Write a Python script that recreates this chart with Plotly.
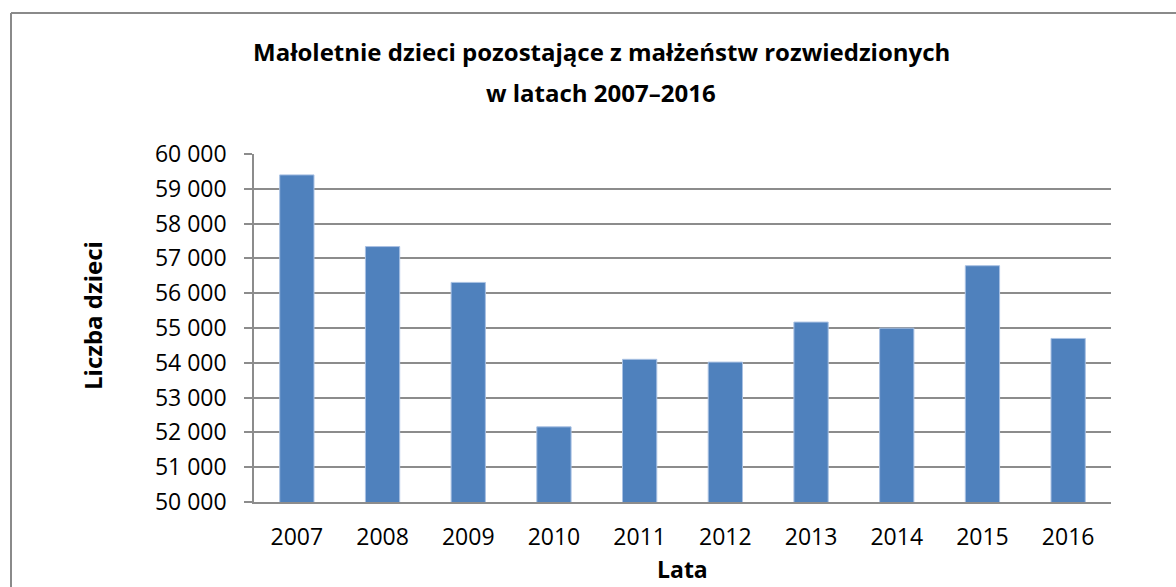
import plotly.graph_objects as go

years = ["2007", "2008", "2009", "2010", "2011", "2012", "2013", "2014", "2015", "2016"]
children = [59400, 57340, 56310, 52160, 54100, 54020, 55170, 54995, 56790, 54700]
y_ticks = list(range(50000, 60001, 1000))

title_line1 = "Małoletnie dzieci pozostające z małżeństw rozwiedzionych"
title_line2 = "w latach 2007–2016"
y_title = "Liczba dzieci"
x_title = "Lata"

W, H = 1176, 587
L, R, T, B = 254, 65, 154, 85
pw, ph = W - L - R, H - T - B

def px_x(p):
    return (p - L) / pw

def px_y(p):
    return (H - B - p) / ph

FONT = "Open Sans"
GRID = "#8c8c8c"

fig = go.Figure(go.Bar(
    x=years, y=children,
    marker=dict(color="#4F81BD", line=dict(color="#a9c1e3", width=1)),
    hoverinfo="x+y",
))

fig.update_layout(
    width=W, height=H,
    margin=dict(l=L, r=R, t=T, b=B),
    paper_bgcolor="white", plot_bgcolor="white",
    bargap=0.6,
    showlegend=False,
    separators=", ",
    font=dict(family=FONT, color="black"),
)

fig.update_yaxes(
    range=[50000, 60000],
    tickvals=y_ticks,
    tickformat=",d",
    showgrid=True, gridcolor=GRID, gridwidth=1.5,
    showline=True, linecolor=GRID, linewidth=1.5,
    ticks="outside", ticklen=8, tickcolor=GRID, tickwidth=1.5,
    tickfont=dict(family=FONT, size=23, color="black"),
    ticklabelstandoff=13,
    zeroline=False,
)
fig.update_xaxes(
    showline=True, linecolor=GRID, linewidth=1.5,
    ticks="", showgrid=False,
    tickfont=dict(family=FONT, size=23, color="black"),
    ticklabelstandoff=14,
)

fig.add_annotation(text="<b>" + title_line1 + "</b>", xref="paper", yref="paper",
                   x=px_x(601), y=px_y(51), showarrow=False,
                   font=dict(family=FONT, size=24, color="black"),
                   xanchor="center", yanchor="middle")
fig.add_annotation(text="<b>" + title_line2 + "</b>", xref="paper", yref="paper",
                   x=px_x(601), y=px_y(92), showarrow=False,
                   font=dict(family=FONT, size=24, color="black"),
                   xanchor="center", yanchor="middle")
fig.add_annotation(text="<b>" + y_title + "</b>", xref="paper", yref="paper",
                   x=px_x(92), y=px_y(316), showarrow=False, textangle=-90,
                   font=dict(family=FONT, size=24, color="black"),
                   xanchor="center", yanchor="middle")
fig.add_annotation(text="<b>" + x_title + "</b>", xref="paper", yref="paper",
                   x=px_x(682), y=px_y(569), showarrow=False,
                   font=dict(family=FONT, size=23, color="black"),
                   xanchor="center", yanchor="middle")

# outer chart-area border (top and left edges visible)
fig.add_shape(type="line", xref="paper", yref="paper",
              x0=px_x(11), x1=px_x(W + 50), y0=px_y(13), y1=px_y(13),
              line=dict(color="#8a8a8a", width=2), layer="below")
fig.add_shape(type="line", xref="paper", yref="paper",
              x0=px_x(11), x1=px_x(11), y0=px_y(13), y1=px_y(H + 50),
              line=dict(color="#8a8a8a", width=2), layer="below")

fig.write_html("out.html", config={"displayModeBar": False},
               post_script="document.body.style.margin='0';document.body.style.overflow='hidden';")
